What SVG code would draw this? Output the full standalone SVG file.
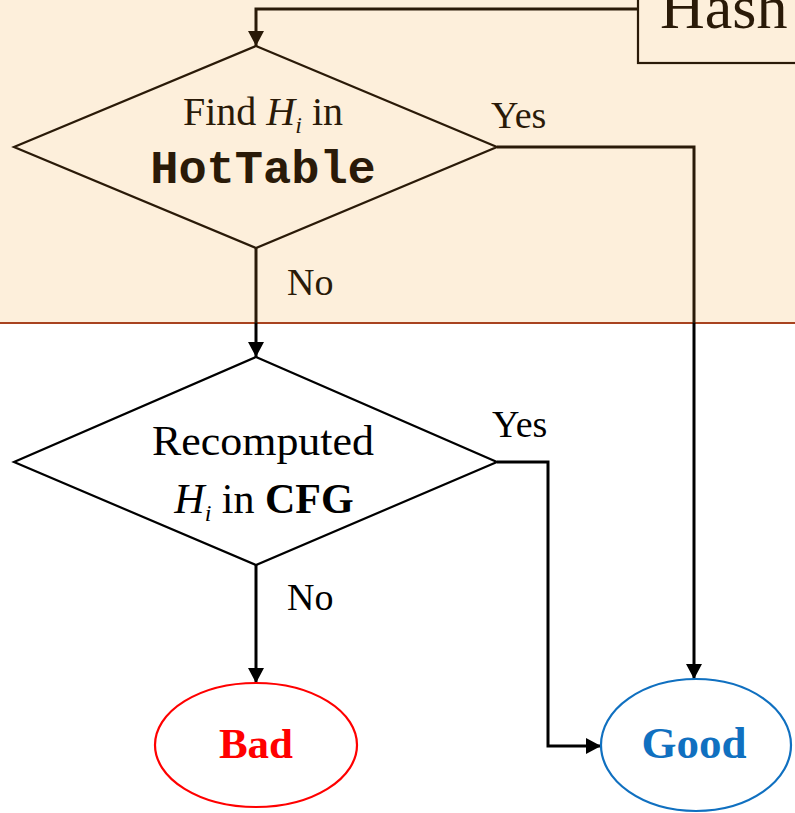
<svg xmlns="http://www.w3.org/2000/svg" width="795" height="813" viewBox="0 0 795 813">
  <style>
    .serif { font-family: "Liberation Serif", "Times New Roman", serif; }
    .lbl { font-family: "Liberation Serif", "Times New Roman", serif; font-size: 38px; }
    .dk { fill: #2a1a08; }
    .bk { fill: #000000; }
    .shape-dk { fill: none; stroke: #2a1a08; stroke-width: 2.2; }
    .shape-bk { fill: none; stroke: #000000; stroke-width: 2.2; }
    .conn-dk { fill: none; stroke: #2a1a08; stroke-width: 3; }
    .conn-bk { fill: none; stroke: #000000; stroke-width: 3; }
    .sub { font-style: italic; font-size: 24px; }
  </style>
  <defs>
    <marker id="arrDk" markerUnits="userSpaceOnUse" markerWidth="16" markerHeight="18" refX="15" refY="8" orient="auto">
      <path d="M0,0 L15,8 L0,16 Z" fill="#2a1a08"/>
    </marker>
    <marker id="arrBk" markerUnits="userSpaceOnUse" markerWidth="16" markerHeight="18" refX="15" refY="8" orient="auto">
      <path d="M0,0 L15,8 L0,16 Z" fill="#000000"/>
    </marker>
  </defs>

  <!-- background bands -->
  <rect x="0" y="0" width="795" height="323" fill="#fdefdb"/>
  <rect x="0" y="323" width="795" height="490" fill="#ffffff"/>
  <line x1="0" y1="323" x2="795" y2="323" stroke="#a8431f" stroke-width="2.2"/>

  <!-- connectors -->
  <g id="connectors">
    <polyline class="conn-dk" points="638,9 256,9 256,46" marker-end="url(#arrDk)"/>
    <polyline class="conn-dk" points="497,147 694,147 694,323"/>
    <polyline class="conn-bk" points="694,323 694,679" marker-end="url(#arrBk)"/>
    <polyline class="conn-dk" points="256,248 256,323"/>
    <polyline class="conn-bk" points="256,323 256,357" marker-end="url(#arrBk)"/>
    <polyline class="conn-bk" points="497,462 548,462 548,746 601,746" marker-end="url(#arrBk)"/>
    <polyline class="conn-bk" points="256,565 256,683" marker-end="url(#arrBk)"/>
    <text class="lbl dk" x="491" y="128">Yes</text>
    <text class="lbl dk" x="287" y="295">No</text>
    <text class="lbl bk" x="492" y="437">Yes</text>
    <text class="lbl bk" x="287" y="610">No</text>
  </g>

  <!-- hash source box -->
  <g id="hash">
    <rect x="638" y="-6" width="200" height="69" class="shape-dk"/>
    <text class="serif dk" x="660" y="28" font-size="62">Hash</text>
  </g>

  <!-- decision: lookup in HotTable -->
  <g id="find-hottable">
    <polygon class="shape-dk" points="256,46 497,147 256,248 14,147"/>
    <text class="serif dk" x="263" y="125" font-size="40" text-anchor="middle">Find <tspan font-style="italic">H</tspan><tspan class="sub" dy="8">i</tspan><tspan dy="-8"> in</tspan></text>
    <text class="dk" x="263" y="183" font-family="'Liberation Mono', 'Courier New', monospace" font-weight="bold" font-size="47" text-anchor="middle">HotTable</text>
  </g>

  <!-- decision: recomputed hash in CFG -->
  <g id="recomputed-cfg">
    <polygon class="shape-bk" points="256,357 497,462 256,565 14,462"/>
    <text class="serif bk" x="263" y="455" font-size="42" text-anchor="middle" textLength="222" lengthAdjust="spacingAndGlyphs">Recomputed</text>
    <text class="serif bk" x="264" y="513" font-size="42" text-anchor="middle"><tspan font-style="italic">H</tspan><tspan class="sub" dy="8">i</tspan><tspan dy="-8"> in </tspan><tspan font-weight="bold">CFG</tspan></text>
  </g>

  <!-- outcome: bad -->
  <g id="bad">
    <ellipse cx="256" cy="745" rx="101" ry="62" fill="#ffffff" stroke="#ff0000" stroke-width="2.2"/>
    <text class="serif" x="256" y="758" font-size="43" font-weight="bold" fill="#ff0000" text-anchor="middle">Bad</text>
  </g>

  <!-- outcome: good -->
  <g id="good">
    <ellipse cx="696" cy="745" rx="95" ry="66" fill="#ffffff" stroke="#1070c0" stroke-width="2.2"/>
    <text class="serif" x="694" y="758" font-size="45" font-weight="bold" fill="#1070c0" text-anchor="middle">Good</text>
  </g>
</svg>
